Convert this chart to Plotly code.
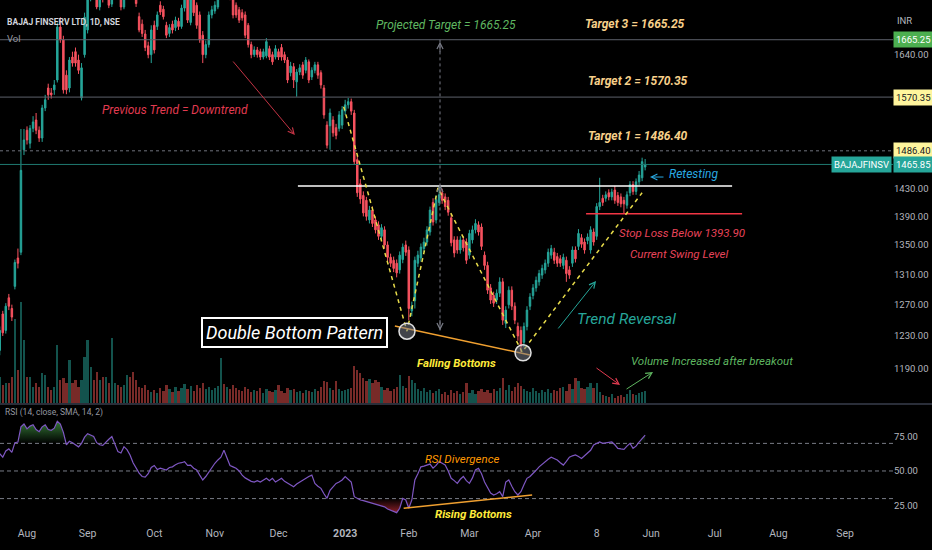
import math
import numpy as np
import plotly.graph_objects as go

# ---- daily candles (one entry per trading session, Jul 2022 -> May 2023) ----
opens = [
    1212, 1258, 1237, 1279, 1265, 1294, 1332, 1340, 1488, 1518,
    1498, 1521, 1534, 1518, 1506, 1553, 1585, 1577, 1582, 1598,
    1687, 1665, 1606, 1585, 1636, 1645, 1631, 1569, 1640, 1682,
    1740, 1770, 1752, 1722, 1760, 1740, 1760, 1727, 1752, 1790,
    1765, 1722, 1760, 1800, 1782, 1745, 1705, 1692, 1675, 1655,
    1640, 1690, 1688, 1725, 1718, 1690, 1676, 1692, 1686, 1697,
    1688, 1720, 1745, 1695, 1740, 1725, 1708, 1673, 1640, 1657,
    1708, 1715, 1722, 1740, 1775, 1760, 1790, 1745, 1725, 1717,
    1712, 1708, 1690, 1657, 1640, 1648, 1645, 1636, 1638, 1650,
    1640, 1636, 1645, 1652, 1640, 1631, 1610, 1620, 1595, 1611,
    1623, 1614, 1628, 1603, 1614, 1623, 1610, 1585, 1526, 1525,
    1534, 1522, 1521, 1526, 1548, 1558, 1563, 1545, 1473, 1437,
    1420, 1413, 1385, 1399, 1385, 1378, 1362, 1371, 1350, 1333,
    1329, 1325, 1316, 1330, 1350, 1343, 1262, 1275, 1325, 1332,
    1345, 1354, 1368, 1410, 1385, 1410, 1424, 1418, 1413, 1388,
    1357, 1357, 1343, 1357, 1354, 1336, 1357, 1371, 1378, 1375,
    1336, 1322, 1292, 1282, 1276, 1285, 1300, 1246, 1270, 1289,
    1268, 1242, 1237, 1222, 1242, 1268, 1282, 1292, 1300, 1309,
    1316, 1325, 1336, 1340, 1334, 1331, 1322, 1329, 1316, 1325,
    1343, 1348, 1360, 1354, 1356, 1343, 1368, 1362, 1404, 1416,
    1416, 1424, 1418, 1428, 1420, 1418, 1413, 1406, 1424, 1436,
    1426, 1440, 1446, 1462,
]
closes = [
    1237, 1234, 1268, 1268, 1254, 1326, 1325, 1457, 1503, 1503,
    1521, 1531, 1518, 1506, 1553, 1566, 1574, 1574, 1590, 1687,
    1665, 1582, 1582, 1631, 1626, 1626, 1614, 1618, 1704, 1740,
    1770, 1750, 1722, 1745, 1740, 1775, 1725, 1752, 1785, 1770,
    1722, 1760, 1795, 1780, 1745, 1728, 1682, 1676, 1652, 1640,
    1682, 1648, 1708, 1713, 1705, 1673, 1686, 1682, 1699, 1688,
    1720, 1740, 1699, 1735, 1712, 1690, 1665, 1640, 1657, 1708,
    1717, 1725, 1745, 1770, 1760, 1790, 1740, 1708, 1708, 1699,
    1703, 1673, 1657, 1640, 1648, 1640, 1636, 1645, 1662, 1636,
    1628, 1650, 1636, 1636, 1631, 1598, 1621, 1598, 1611, 1618,
    1606, 1631, 1598, 1614, 1623, 1606, 1590, 1542, 1495, 1545,
    1514, 1510, 1542, 1550, 1558, 1563, 1548, 1470, 1424, 1415,
    1395, 1390, 1399, 1380, 1371, 1362, 1374, 1350, 1333, 1325,
    1318, 1312, 1336, 1347, 1340, 1265, 1268, 1329, 1336, 1347,
    1354, 1371, 1399, 1382, 1414, 1421, 1413, 1404, 1396, 1353,
    1339, 1343, 1357, 1346, 1329, 1366, 1371, 1380, 1368, 1348,
    1322, 1289, 1276, 1272, 1285, 1300, 1250, 1263, 1289, 1268,
    1250, 1230, 1217, 1242, 1263, 1280, 1292, 1302, 1311, 1318,
    1325, 1340, 1345, 1329, 1325, 1325, 1333, 1311, 1309, 1343,
    1331, 1366, 1351, 1343, 1361, 1371, 1354, 1404, 1410, 1410,
    1421, 1418, 1425, 1413, 1410, 1408, 1408, 1421, 1436, 1426,
    1440, 1450, 1470, 1465.85,
]
highs = [
    1242, 1262, 1272, 1284, 1270, 1330, 1345, 1520, 1520, 1524,
    1526, 1540, 1545, 1524, 1558, 1574, 1592, 1585, 1598, 1695,
    1704, 1672, 1614, 1636, 1645, 1652, 1640, 1626, 1712, 1760,
    1785, 1790, 1760, 1758, 1772, 1790, 1768, 1765, 1800, 1805,
    1772, 1770, 1810, 1815, 1790, 1752, 1712, 1700, 1682, 1662,
    1690, 1698, 1714, 1732, 1724, 1696, 1692, 1698, 1705, 1703,
    1726, 1752, 1752, 1748, 1746, 1730, 1714, 1680, 1664, 1714,
    1724, 1732, 1756, 1784, 1786, 1802, 1796, 1752, 1730, 1722,
    1718, 1714, 1694, 1662, 1654, 1653, 1650, 1650, 1668, 1655,
    1645, 1656, 1650, 1658, 1645, 1636, 1628, 1626, 1616, 1624,
    1628, 1636, 1632, 1619, 1628, 1628, 1614, 1590, 1532, 1552,
    1540, 1528, 1548, 1556, 1566, 1569, 1568, 1550, 1480, 1444,
    1426, 1418, 1405, 1404, 1390, 1383, 1379, 1376, 1355, 1338,
    1334, 1330, 1341, 1352, 1356, 1348, 1274, 1334, 1342, 1352,
    1360, 1376, 1404, 1416, 1420, 1434, 1430, 1423, 1418, 1393,
    1362, 1362, 1362, 1362, 1359, 1371, 1377, 1386, 1383, 1380,
    1341, 1327, 1297, 1287, 1290, 1306, 1305, 1268, 1294, 1294,
    1273, 1247, 1242, 1247, 1268, 1285, 1297, 1307, 1316, 1323,
    1330, 1345, 1350, 1346, 1339, 1336, 1338, 1334, 1321, 1348,
    1348, 1372, 1365, 1359, 1366, 1376, 1373, 1409, 1446, 1421,
    1426, 1429, 1430, 1434, 1425, 1423, 1418, 1426, 1441, 1441,
    1445, 1456, 1476, 1474,
]
lows = [
    1206, 1230, 1233, 1263, 1249, 1290, 1318, 1336, 1480, 1496,
    1490, 1515, 1512, 1500, 1500, 1548, 1566, 1568, 1574, 1594,
    1660, 1576, 1575, 1578, 1620, 1620, 1608, 1565, 1635, 1676,
    1732, 1742, 1718, 1716, 1730, 1736, 1720, 1722, 1748, 1762,
    1716, 1718, 1755, 1772, 1738, 1722, 1678, 1670, 1646, 1634,
    1626, 1642, 1682, 1708, 1700, 1668, 1670, 1676, 1680, 1682,
    1684, 1714, 1694, 1690, 1706, 1684, 1660, 1626, 1634, 1652,
    1702, 1710, 1718, 1736, 1752, 1755, 1734, 1702, 1703, 1694,
    1698, 1668, 1652, 1634, 1636, 1635, 1631, 1632, 1634, 1631,
    1623, 1632, 1631, 1630, 1626, 1593, 1604, 1585, 1571, 1606,
    1600, 1609, 1593, 1598, 1609, 1600, 1584, 1536, 1490, 1488,
    1508, 1504, 1516, 1520, 1542, 1552, 1542, 1465, 1418, 1408,
    1390, 1384, 1380, 1375, 1366, 1357, 1357, 1345, 1328, 1320,
    1313, 1306, 1311, 1325, 1335, 1250, 1255, 1265, 1320, 1327,
    1340, 1349, 1363, 1377, 1380, 1405, 1408, 1399, 1391, 1348,
    1333, 1338, 1338, 1341, 1324, 1331, 1352, 1366, 1363, 1343,
    1316, 1284, 1271, 1267, 1271, 1280, 1244, 1240, 1265, 1263,
    1245, 1224, 1210, 1216, 1237, 1263, 1277, 1287, 1295, 1304,
    1311, 1320, 1331, 1324, 1320, 1320, 1317, 1300, 1304, 1320,
    1326, 1343, 1346, 1338, 1351, 1338, 1349, 1357, 1399, 1405,
    1411, 1413, 1413, 1408, 1405, 1403, 1394, 1401, 1419, 1421,
    1421, 1435, 1441, 1457,
]
# volume, millions of shares
volumes = [
    2.6, 1.8, 2.0, 2.0, 2.6, 8.3, 3.3, 10.0, 6.3, 2.6,
    2.6, 1.6, 2.0, 1.6, 3.0, 2.8, 1.6, 1.3, 1.6, 5.8,
    2.3, 2.5, 2.0, 4.3, 2.0, 2.3, 1.6, 2.3, 4.6, 6.3,
    3.6, 2.3, 3.1, 2.3, 2.6, 2.6, 2.0, 6.5, 2.0, 1.8,
    1.6, 1.8, 2.8, 2.6, 3.1, 2.3, 1.6, 1.5, 1.8, 1.3,
    1.1, 1.3, 1.0, 1.5, 1.2, 1.8, 1.4, 1.1, 1.6, 1.2,
    1.5, 1.9, 1.4, 1.7, 1.2, 1.8, 1.5, 2.0, 1.4, 1.6,
    1.3, 1.5, 1.7, 4.5, 1.9, 1.6, 1.4, 1.8, 1.5, 1.3,
    1.2, 1.6, 1.4, 1.1, 1.3, 1.2, 1.5, 1.0, 1.4, 1.2,
    1.1, 1.3, 1.8, 1.2, 1.0, 1.5, 1.3, 1.4, 1.1, 1.2,
    1.0, 1.3, 1.2, 1.1, 1.4, 1.2, 1.6, 2.2, 2.1, 1.5,
    1.3, 2.2, 1.4, 1.2, 1.3, 1.4, 1.5, 3.7, 3.3, 3.0,
    2.5, 2.2, 2.4, 2.0, 2.3, 2.1, 1.6, 1.3, 1.5, 1.2,
    1.4, 1.6, 2.8, 1.7, 1.5, 2.7, 2.3, 2.0, 1.4, 1.2,
    1.5, 1.1, 1.3, 1.0, 1.2, 1.4, 0.9, 1.1, 0.8, 1.3,
    1.0, 1.2, 0.9, 1.1, 2.0, 1.0, 1.3, 0.9, 1.2, 1.4,
    1.1, 1.3, 1.0, 1.4, 1.2, 1.5, 2.5, 1.3, 1.8, 1.2,
    1.6, 2.0, 1.7, 1.4, 1.2, 1.1, 1.5, 1.2, 1.0, 1.3,
    1.1, 1.4, 1.0, 1.3, 1.2, 1.5, 1.6, 1.2, 1.9, 1.4,
    2.5, 2.2, 1.5, 1.4, 1.6, 2.0, 1.5, 2.0, 1.1, 0.8,
    0.7, 0.6, 0.9, 0.5, 0.7, 0.8, 0.6, 0.9, 1.3, 0.9,
    0.8, 1.0, 1.1, 1.2,
]
rsi = [
    62.5, 60.0, 64.5, 66.0, 63.5, 70.5, 71.0, 82.0, 84.0, 80.5,
    82.5, 83.5, 80.0, 78.5, 82.0, 83.5, 80.0, 79.5, 81.0, 86.0,
    84.0, 78.0, 69.0, 71.5, 70.5, 69.0, 67.5, 70.0, 74.5, 77.0,
    76.0, 75.0, 70.5, 69.0, 68.5, 71.0, 73.0, 75.0, 70.0, 64.0,
    63.0, 67.6, 65.5, 61.6, 56.0, 52.0, 48.5, 46.0, 45.5, 48.0,
    52.5, 54.0, 51.0, 52.0, 51.5, 50.7, 52.5, 53.0, 54.5, 55.6,
    56.0, 56.8, 54.0, 54.3, 52.0, 50.7, 47.0, 43.5, 46.0, 49.5,
    53.0, 55.6, 58.0, 60.0, 65.0, 59.0, 54.0, 53.0, 52.0, 50.0,
    47.0, 45.0, 43.5, 42.5, 42.0, 43.0, 42.0, 43.5, 44.7, 43.0,
    44.7, 42.0, 43.5, 44.7, 42.5, 41.0, 40.0, 38.6, 40.5, 42.0,
    43.0, 44.7, 46.0, 47.0, 41.0, 39.0, 37.4, 33.5, 30.2, 36.0,
    38.5, 41.0, 42.0, 43.5, 46.0, 44.0, 42.0, 31.4, 30.0, 29.0,
    28.5, 27.8, 27.5, 26.6, 26.0, 25.4, 24.8, 24.0, 22.5, 21.7,
    20.8, 19.8, 23.0, 30.2, 29.0, 23.0, 29.0, 43.5, 48.0, 53.0,
    53.5, 54.3, 55.0, 52.0, 54.0, 56.8, 55.5, 54.3, 50.0, 44.7,
    43.0, 41.0, 44.0, 46.0, 43.0, 41.0, 45.0, 50.7, 52.0, 48.0,
    42.0, 37.4, 34.0, 32.6, 33.5, 35.0, 31.4, 42.0, 43.5, 39.0,
    35.0, 32.6, 35.0, 40.0, 44.7, 46.0, 48.0, 50.5, 53.0, 55.0,
    56.8, 58.5, 60.0, 59.0, 58.0, 56.0, 54.3, 57.0, 60.0, 61.0,
    61.6, 60.5, 59.0, 61.0, 62.8, 65.0, 68.8, 70.0, 71.0, 70.0,
    70.5, 71.0, 71.0, 69.0, 66.4, 66.0, 65.7, 68.0, 70.0, 66.4,
    68.0, 71.0, 73.5, 76.0,
]

# time axis labels (bar index of the first session of each month)
month_ticks = [9, 29, 51, 71, 92, 114, 135, 155, 176, 197, 215, 236, 257, 279]
month_labels = ["Aug", "Sep", "Oct", "Nov", "Dec", "<b>2023</b>", "Feb", "Mar",
                "Apr", "8", "Jun", "Jul", "Aug", "Sep"]
price_ticks = [1190, 1230, 1270, 1310, 1350, 1390, 1430, 1640]
rsi_ticks = [25, 50, 75]

# levels drawn on the chart
TARGETS = [1665.25, 1570.35, 1486.40]
LAST_PRICE = 1465.85
NECKLINE = 1434
STOP_LOSS = 1393.90

# pattern drawing anchors (bar index, price)
w_bars = [113.5, 134.4, 144.6, 172.4, 212.0]
w_prices = [1555, 1236, 1431, 1210, 1424]
bottom_bars = [134.4, 172.7]
bottom_prices = [1236, 1209]
fall_bars = [130.4, 175.0]
fall_prices = [1242.6, 1206.3]
rsi_div_bars = [133.3, 175.7]
rsi_div_vals = [23.0, 32.6]

X0, X1 = 0.086, 294.8
FONT = "Roboto, sans-serif"
UP, DOWN = "#26a69a", "#f7525f"
GRID_TXT = "#b2b5be"

bars = list(range(len(closes)))
vol_colors = ["rgba(38,166,154,0.5)" if c >= o else "rgba(239,83,80,0.5)"
              for o, c in zip(opens, closes)]


def lg(p):
    return math.log10(p)


fig = go.Figure()

# volume (overlay at the bottom of the price pane)
fig.add_trace(go.Bar(x=bars, y=volumes, marker_color=vol_colors, marker_line_width=0,
                     width=0.75, xaxis="x", yaxis="y", hoverinfo="skip"))

# horizontal target / price lines
for lvl, col, dash in [(TARGETS[0], "#5d606b", "solid"), (TARGETS[1], "#5d606b", "solid"),
                       (TARGETS[2], "#6f727c", "dot"), (LAST_PRICE, "#1f7a70", "solid")]:
    fig.add_trace(go.Scatter(x=[X0, X1], y=[lvl, lvl], mode="lines",
                             line=dict(color=col, width=1, dash=dash),
                             xaxis="x", yaxis="y2", hoverinfo="skip"))

fig.add_trace(go.Scatter(x=[98.4, 241.7], y=[NECKLINE, NECKLINE], mode="lines",
                         line=dict(color="#ffffff", width=1.5), xaxis="x", yaxis="y2"))
fig.add_trace(go.Scatter(x=[193.5, 245.0], y=[STOP_LOSS, STOP_LOSS], mode="lines",
                         line=dict(color="#f23645", width=1.5), xaxis="x", yaxis="y2"))

# projected target measuring line
fig.add_trace(go.Scatter(x=[145.3, 145.3], y=[1237, TARGETS[0]], mode="lines",
                         line=dict(color="#787b86", width=1, dash="dot"),
                         xaxis="x", yaxis="y2"))

fig.add_trace(go.Candlestick(
    x=bars, open=opens, high=highs, low=lows, close=closes,
    increasing=dict(line=dict(color=UP, width=1), fillcolor=UP),
    decreasing=dict(line=dict(color=DOWN, width=1), fillcolor=DOWN),
    whiskerwidth=0, xaxis="x", yaxis="y2", hoverinfo="skip"))

# W shape + falling bottoms
fig.add_trace(go.Scatter(x=w_bars, y=w_prices, mode="lines",
                         line=dict(color="#e8dc4a", width=1.5, dash="4px,4px"),
                         xaxis="x", yaxis="y2"))
fig.add_trace(go.Scatter(x=fall_bars, y=fall_prices, mode="lines",
                         line=dict(color="#f0a030", width=1.5), xaxis="x", yaxis="y2"))
fig.add_trace(go.Scatter(x=bottom_bars, y=bottom_prices, mode="markers",
                         marker=dict(size=16, color="rgba(120,123,134,0.55)",
                                     line=dict(color="#e0e0e0", width=1.5)),
                         xaxis="x", yaxis="y2"))

# RSI pane
for lvl in [70, 50, 30]:
    fig.add_trace(go.Scatter(x=[X0, X1], y=[lvl, lvl], mode="lines",
                             line=dict(color="#787b86", width=1, dash="4px,3px"),
                             xaxis="x", yaxis="y3", hoverinfo="skip"))

rsi_arr = np.array(rsi)
fig.add_trace(go.Scatter(x=bars, y=[70] * len(bars), mode="lines", line=dict(width=0),
                         xaxis="x", yaxis="y3", hoverinfo="skip"))
fig.add_trace(go.Scatter(x=bars, y=np.maximum(rsi_arr, 70), mode="lines", line=dict(width=0),
                         fill="tonexty",
                         fillgradient=dict(type="vertical", start=70, stop=90,
                                           colorscale=[[0, "rgba(76,175,80,0)"],
                                                       [1, "rgba(76,175,80,0.85)"]]),
                         xaxis="x", yaxis="y3", hoverinfo="skip"))
fig.add_trace(go.Scatter(x=bars, y=[30] * len(bars), mode="lines", line=dict(width=0),
                         xaxis="x", yaxis="y3", hoverinfo="skip"))
fig.add_trace(go.Scatter(x=bars, y=np.minimum(rsi_arr, 30), mode="lines", line=dict(width=0),
                         fill="tonexty",
                         fillgradient=dict(type="vertical", start=15, stop=30,
                                           colorscale=[[0, "rgba(242,54,69,0.85)"],
                                                       [1, "rgba(242,54,69,0)"]]),
                         xaxis="x", yaxis="y3", hoverinfo="skip"))
fig.add_trace(go.Scatter(x=bars, y=rsi, mode="lines", line=dict(color="#7e57c2", width=1.2),
                         xaxis="x", yaxis="y3", hoverinfo="skip"))
fig.add_trace(go.Scatter(x=rsi_div_bars, y=rsi_div_vals, mode="lines",
                         line=dict(color="#f0a030", width=1.5), xaxis="x", yaxis="y3"))


def note(text, x, price, color, size, **kw):
    return dict(text=text, x=x, y=lg(price), xref="x", yref="y2", showarrow=False,
                font=dict(color=color, size=size, family=FONT), **kw)


def arrow(x, price, ax, ay, color):
    return dict(text="", x=x, y=lg(price), xref="x", yref="y2", showarrow=True,
                ax=ax, ay=ay, arrowhead=5, arrowsize=1.2, arrowwidth=1,
                arrowcolor=color, standoff=0)


def tag(text, price, bg, fg, xpos=1.0, anchor="left"):
    return dict(text=text, x=xpos, y=lg(price), xref="paper", yref="y2", xanchor=anchor,
                showarrow=False, bgcolor=bg, borderpad=2,
                font=dict(color=fg, size=9.5, family=FONT))


annotations = [
    note("<i>Previous Trend = Downtrend</i>", 58, 1549.8, "#e23b50", 12),
    arrow(97.4, 1510.6, -63, -75, "#c23344"),
    note("<i>Projected Target = 1665.25</i>", 147.3, 1690.5, "#5fb760", 12),
    note("<b><i>Target 3 = 1665.25</i></b>", 209.8, 1692, "#f7d08a", 12),
    note("<b><i>Target 2 = 1570.35</i></b>", 210.8, 1596.4, "#f7d08a", 12),
    note("<b><i>Target 1 = 1486.40</i></b>", 210.8, 1509.1, "#f7d08a", 12),
    note("<i>Retesting</i>", 229, 1451.6, "#29a8e0", 12),
    arrow(214.6, 1447.1, 15, 0, "#29a8e0"),
    note("<i>Stop Loss Below 1393.90</i>", 225.2, 1366.6, "#e8445a", 11.5),
    note("<i>Current Swing Level</i>", 224.2, 1337.6, "#e8445a", 11.5),
    note("<i>Trend Reversal</i>", 206.7, 1251.6, "#26a69a", 15.5),
    arrow(196.8, 1301.2, -39, 49, "#26a69a"),
    note("<i>Volume Increased after breakout</i>", 234.9, 1199, "#5fb760", 11.5),
    arrow(204.7, 1169.9, -25, -18, "#e23b50"),
    arrow(215.6, 1185.5, -28, 18, "#5fb760"),
    note("<b><i>Falling Bottoms</i></b>", 150.7, 1196.5, "#ffeb3b", 11.5),
    note("<i>Double Bottom Pattern</i>", 97.4, 1233.8, "#ffffff", 18,
         bgcolor="#000000", bordercolor="#ffffff", borderwidth=2, borderpad=3),
    arrow(145.3, 1662, 0, 12, "#787b86"),
    arrow(145.3, 1436, 0, 12, "#787b86"),
    arrow(145.3, 1237, 0, -12, "#787b86"),
    dict(text="<i>RSI Divergence</i>", x=152.7, y=58.7, xref="x", yref="y3", showarrow=False,
         font=dict(color="#ff9800", size=11.5, family=FONT)),
    dict(text="<b><i>Rising Bottoms</i></b>", x=156.4, y=18.8, xref="x", yref="y3",
         showarrow=False, font=dict(color="#ffeb3b", size=11.5, family=FONT)),
    # header / labels
    dict(text="<b>BAJAJ FINSERV LTD, 1D, NSE</b>", x=0.0056, y=0.9714, xref="paper", yref="paper",
         xanchor="left", showarrow=False, font=dict(color="#d1d4dc", size=8.5, family=FONT)),
    dict(text="Vol", x=0.0056, y=0.941, xref="paper", yref="paper", xanchor="left",
         showarrow=False, font=dict(color="#9598a1", size=9.5, family=FONT)),
    dict(text="INR", x=1.0134, y=0.975, xref="paper", yref="paper", xanchor="center",
         showarrow=False, font=dict(color=GRID_TXT, size=9.5, family=FONT)),
    dict(text="RSI (14, close, SMA, 14, 2)", x=0.0034, y=0.2, xref="paper", yref="paper",
         xanchor="left", showarrow=False, font=dict(color="#9598a1", size=8.5, family=FONT)),
    # price scale tags
    tag("1665.25", TARGETS[0], "#4caf50", "#ffffff"),
    tag("1570.35", TARGETS[1], "#fff59d", "#131722"),
    tag("1486.40", TARGETS[2], "#fff59d", "#131722"),
    tag("1465.85", LAST_PRICE, "#26a69a", "#ffffff"),
    tag("BAJAJFINSV", LAST_PRICE, "#26a69a", "#ffffff", xpos=0.9985, anchor="right"),
]

axis_font = dict(color=GRID_TXT, size=9.5, family=FONT)

fig.update_layout(
    width=932, height=550,
    margin=dict(l=0, r=39, t=0, b=25, autoexpand=False),
    paper_bgcolor="#000000", plot_bgcolor="#000000",
    showlegend=False, hovermode=False, bargap=0,
    font=dict(family=FONT, color=GRID_TXT, size=10),
    xaxis=dict(domain=[0, 1], range=[X0, X1], anchor="y3", showgrid=False, zeroline=False,
               showline=False, ticks="", tickmode="array", tickvals=month_ticks,
               ticktext=month_labels, tickfont=dict(color=GRID_TXT, size=10.5, family=FONT),
               automargin=False, rangeslider=dict(visible=False)),
    yaxis=dict(domain=[0.23238, 1], range=[0, 40], visible=False, anchor="x"),
    yaxis2=dict(overlaying="y", type="log", range=[lg(1148.5), lg(1734.3)], side="right",
                anchor="x", showgrid=False, zeroline=False, ticks="", tickmode="array",
                tickvals=price_ticks, ticktext=[f"{v:.2f}" for v in price_ticks],
                tickfont=axis_font, automargin=False),
    yaxis3=dict(domain=[0, 0.22857], range=[10.87, 97.8], side="right", anchor="x",
                showgrid=False, zeroline=False, ticks="", tickmode="array",
                tickvals=rsi_ticks, ticktext=[f"{v:.2f}" for v in rsi_ticks],
                tickfont=axis_font, automargin=False),
    annotations=annotations,
    shapes=[dict(type="line", xref="paper", yref="paper", x0=0, x1=1.05, y0=0.2305, y1=0.2305,
                 line=dict(color="#2a2e39", width=2))],
)

# page body margin would shift the 932x550 figure inside the window
fig.write_html("out.html", config={"displayModeBar": False},
               post_script="document.body.style.margin='0';")
